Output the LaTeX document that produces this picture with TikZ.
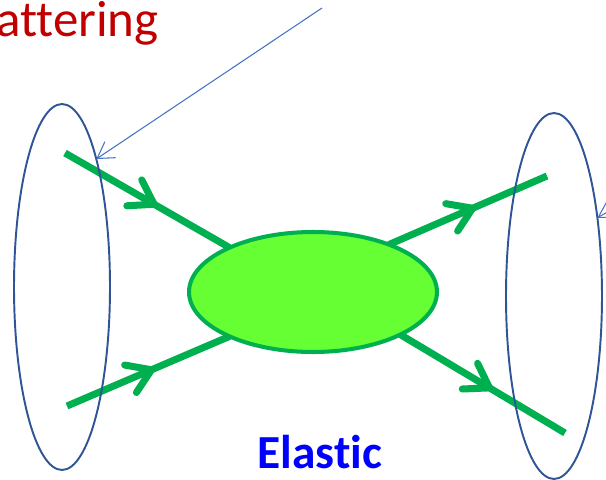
\documentclass[tikz,border=0pt]{standalone}
\usepackage{fontspec}
\setmainfont{Carlito}[Ligatures=NoCommon]
\usepackage{tikz}
\usetikzlibrary{arrows.meta,calc,shapes.geometric,backgrounds}
\definecolor{ringblue}{HTML}{2F5597}
\definecolor{pointblue}{HTML}{4472C4}
\definecolor{flowgreen}{HTML}{00B050}
\definecolor{blobgreen}{HTML}{66FF33}
\definecolor{titlered}{HTML}{C00000}

\begin{document}
\begin{tikzpicture}[x=0.02cm,y=-0.02cm,
    ring/.style={ellipse,draw=ringblue,line width=1.1pt,minimum width=1.92cm,minimum height=7.32cm,inner sep=0pt,outer sep=0pt},
    flow/.style={flowgreen,line width=4pt},
    flowtip/.style={-{Straight Barb[length=13pt,width=17pt,round]}},
    pointer/.style={pointblue,line width=0.6pt,-{Straight Barb[length=9pt,width=11pt]}}]
    \useasboundingbox (0,0) rectangle (606,480);

    % texts
    \node[anchor=base east,text=titlered,font=\fontsize{29}{34}\selectfont,inner sep=0pt] (title) at (159,36) {Scattering};
    \node[anchor=base,text=blue,font=\fontsize{27}{32}\selectfont\bfseries,inner sep=0pt] (kind) at (320,468) {Elastic};

    % initial and final states
    \node[ring] (inring) at (62,287) {};
    \node[ring] (outring) at (554,296) {};

    % interaction blob
    \node[ellipse,draw=flowgreen,fill=blobgreen,line width=2.3pt,minimum width=4.96cm,minimum height=2.4cm,inner sep=0pt,outer sep=0pt] (blob) at (313,292) {};

    \coordinate (a1) at (65,153);
    \coordinate (a2) at (67,406);
    \coordinate (b1) at (547,176);
    \coordinate (b2) at (565,433);

    \begin{scope}[on background layer]
        \draw[flow,flowtip] (a1) -- ($(a1)!0.56!(blob.152)$);
        \draw[flow] ($(a1)!0.5!(blob.152)$) -- (blob.152);
        \draw[flow,flowtip] (a2) -- ($(a2)!0.54!(blob.208)$);
        \draw[flow] ($(a2)!0.5!(blob.208)$) -- (blob.208);
        \draw[flow,flowtip] (blob.32) -- ($(blob.32)!0.55!(b1)$);
        \draw[flow] ($(blob.32)!0.5!(b1)$) -- (b1);
        \draw[flow,flowtip] (blob.334) -- ($(blob.334)!0.56!(b2)$);
        \draw[flow] ($(blob.334)!0.5!(b2)$) -- (b2);
    \end{scope}

    % pointers to the states
    \coordinate (p1) at (322,8);
    \coordinate (p2) at (660,182);
    \draw[pointer] (p1) -- (inring.75);
    \draw[pointer] (p2) -- (outring.61);
\end{tikzpicture}
\end{document}
